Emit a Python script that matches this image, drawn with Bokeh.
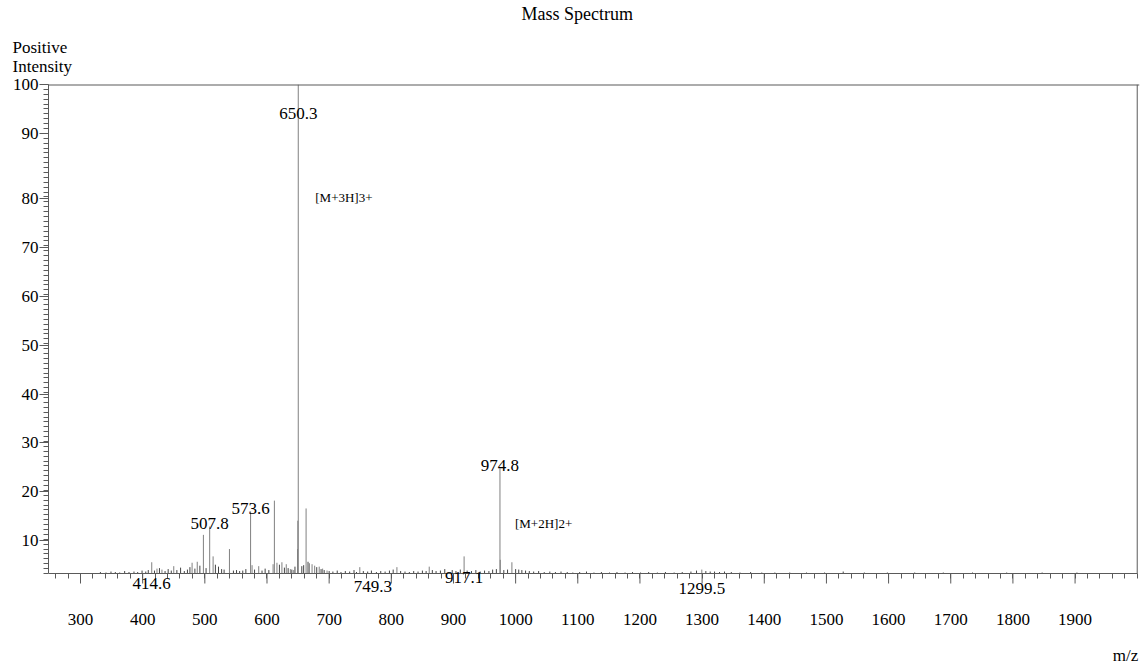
from bokeh.plotting import figure
from bokeh.models import FixedTicker, Label, Range1d, Span, Title
from bokeh.core.properties import value
from bokeh.embed import file_html
from bokeh.resources import INLINE

# Major ions (m/z, relative intensity %)
peak_mz = [650.3, 974.8, 573.6, 507.8, 414.6, 749.3, 917.1, 1299.5,
           497.7, 513.3, 539.6, 611.9, 662.9, 649.6, 649.1, 975.3, 994.0,
           809.0, 861.0, 450.0, 479.5, 487.8, 423.0, 431.0,
           576.0, 586.7, 609.8, 616.0, 624.0, 631.0, 637.6, 643.0,
           668.2, 672.5, 676.7, 684.0, 689.5, 696.6]
peak_int = [100, 21.5, 12.7, 9.6, 2.3, 1.3, 3.5, 0.8,
            7.9, 3.5, 5.0, 14.9, 13.3, 10.8, 5.0, 2.8, 2.3,
            1.3, 1.4, 1.5, 2.2, 2.4, 1.0, 0.8,
            1.7, 1.5, 1.9, 2.2, 2.3, 1.9, 0.9, 0.7,
            2.1, 1.9, 1.6, 1.4, 1.0, 0.6]

# Low-level signals along the baseline
minor_mz = [332, 341, 349, 356, 363, 371, 378, 386, 392, 399,
            405, 409, 419, 427, 436, 441, 446, 455, 461, 467,
            472, 476, 484, 492, 502, 517, 522, 527, 531, 546,
            551, 556, 561, 566, 580, 592, 597, 603, 620, 628,
            634, 640, 645, 656, 659, 666, 680, 687, 692, 700,
            706, 713, 719, 726, 733, 740, 744, 755, 762, 768,
            776, 783, 790, 797, 803, 815, 822, 829, 836, 843,
            850, 856, 866, 872, 879, 886, 898, 904, 911, 922,
            929, 936, 943, 950, 957, 963, 969, 981, 987, 1000,
            1005, 1010, 1016, 1022, 1029, 1037, 1046, 1055, 1064, 1073,
            1083, 1092, 1103, 1114, 1126, 1138, 1151, 1163, 1176, 1188,
            1201, 1214, 1228, 1241, 1255, 1268, 1282, 1291, 1306, 1313,
            1320, 1328, 1336, 1347, 1361, 1378, 1396, 1417, 1441, 1468,
            1497, 1527, 1561, 1598, 1642, 1688, 1735, 1790, 1847, 1903]
minor_int = [0.3, 0.2, 0.4, 0.3, 0.2, 0.5, 0.3, 0.4, 0.3, 0.6,
             0.4, 0.7, 0.6, 1.1, 0.5, 0.9, 0.6, 0.7, 1.2, 0.5,
             0.8, 1.3, 1.0, 1.6, 1.1, 1.8, 1.4, 0.9, 0.8, 0.6,
             0.7, 0.5, 0.6, 0.9, 0.8, 0.6, 1.0, 0.7, 1.8, 1.2,
             1.1, 0.8, 1.4, 1.5, 1.7, 2.4, 1.3, 0.9, 0.7, 0.5,
             0.4, 0.6, 0.3, 0.5, 0.4, 0.7, 0.3, 0.5, 0.4, 0.6,
             0.3, 0.5, 0.4, 0.6, 0.8, 0.5, 0.4, 0.3, 0.5, 0.4,
             0.6, 0.5, 0.7, 0.5, 0.6, 0.9, 0.7, 0.5, 0.8, 0.6,
             0.5, 0.7, 0.4, 0.6, 0.5, 0.8, 0.9, 0.7, 0.8, 0.9,
             0.8, 0.7, 0.6, 0.5, 0.4, 0.5, 0.3, 0.4, 0.3, 0.4,
             0.3, 0.2, 0.3, 0.4, 0.2, 0.3, 0.2, 0.3, 0.2, 0.3,
             0.2, 0.3, 0.2, 0.3, 0.2, 0.3, 0.4, 0.6, 0.5, 0.4,
             0.4, 0.3, 0.4, 0.3, 0.2, 0.3, 0.2, 0.2, 0.2, 0.2,
             0.2, 0.4, 0.2, 0.2, 0.2, 0.2, 0.2, 0.2, 0.2, 0.2]

# Peaks annotated with their m/z
labeled_mz = [650.3, 974.8, 573.6, 507.8, 414.6, 749.3, 917.1, 1299.5]

# Charge-state annotations
ion_notes = ["[M+3H]3+", "[M+2H]2+"]
ion_note_mz = [650.3, 974.8]

x_ticks = list(range(300, 2000, 100))
y_tick_values = [10, 20, 30, 40, 50, 60, 70, 80, 90, 100]

FONT = "Liberation Serif"
AXIS_GREY = "#5a5a5a"
PEAK_GREY = "#808080"

# ---- geometry (pixels) ----
PX_Y = 4.89          # pixels per % intensity
PX_X = 0.6216        # pixels per m/z unit
FRAME_LEFT, FRAME_TOP = 48, 84     # the box top is the 100 % line
FRAME_W, FRAME_H = 1091, 667 - 84
ZERO_PX = 573                      # where 0 % falls
X_START = 248.5
X_END = X_START + FRAME_W / PX_X
Y_END = 100
Y_START = Y_END - FRAME_H / PX_Y
X_FULL = 2000


def px_down(n):
    """Intensity units spanning n pixels."""
    return n / PX_Y


p = figure(frame_width=FRAME_W, frame_height=FRAME_H,
           x_range=Range1d(X_START, X_END), y_range=Range1d(Y_START, Y_END),
           x_axis_location="above",
           output_backend="svg", toolbar_location=None, title=None,
           min_border_left=FRAME_LEFT, min_border_right=2,
           min_border_top=FRAME_TOP, min_border_bottom=0)
p.grid.visible = False
p.outline_line_color = None
p.background_fill_color = "white"
p.border_fill_color = "white"

# plot box: top edge and right edge
p.add_layout(Span(location=100, dimension="width", line_color=AXIS_GREY, line_width=2))
p.segment(x0=[X_FULL], y0=[0], x1=[X_FULL], y1=[100], line_color=AXIS_GREY, line_width=1)

# stick spectrum
p.segment(x0=minor_mz, y0=0, x1=minor_mz, y1=minor_int,
          line_color="#444444", line_width=1)
p.segment(x0=peak_mz, y0=0, x1=peak_mz, y1=peak_int,
          line_color=PEAK_GREY, line_width=1)

# m/z axis line on the zero level with short ticks every 20 hanging below
xa = p.xaxis[0]
xa.fixed_location = 0
xa.bounds = (X_START, X_FULL)
xa.ticker = FixedTicker(ticks=[], minor_ticks=list(range(260, 2001, 20)))
xa.axis_line_color = AXIS_GREY
xa.minor_tick_line_color = AXIS_GREY
xa.major_tick_out = 0
xa.major_tick_in = 0
xa.minor_tick_out = 0
xa.minor_tick_in = 5
xa.major_label_standoff = 0

# longer ticks at every hundred and their numbers
p.segment(x0=x_ticks, y0=0, x1=x_ticks, y1=-px_down(10),
          line_color=AXIS_GREY, line_width=1)
p.text(x=x_ticks, y=[-px_down(619 - ZERO_PX)] * len(x_ticks),
       text=[str(t) for t in x_ticks], text_font=value(FONT),
       text_font_size="17px", text_color="black",
       text_align="center", text_baseline="middle")

# intensity axis: labelled ticks sit a little below their decade marks
label_pos = [round(v - 3.3, 1) if v <= 80 else float(v) for v in y_tick_values]
ya = p.yaxis[0]
ya.bounds = (0, 100)
ya.ticker = FixedTicker(ticks=label_pos, minor_ticks=list(range(0, 101, 1)))
ya.major_label_overrides = {pos: str(v) for pos, v in zip(label_pos, y_tick_values)}
ya.axis_line_color = AXIS_GREY
ya.major_tick_line_color = AXIS_GREY
ya.minor_tick_line_color = AXIS_GREY
ya.major_tick_out = 9
ya.major_tick_in = 0
ya.minor_tick_out = 5
ya.minor_tick_in = 0
ya.major_label_standoff = 1
ya.major_label_text_font = FONT
ya.major_label_text_font_size = "17px"
ya.major_label_text_color = "black"


def add_text(x, y, text, size="17px", align="center", dx=0, dy=0):
    """Place text at (x, y) shifted by dx/dy pixels (dy positive = up)."""
    p.add_layout(Label(x=x + dx / PX_X, y=y + dy / PX_Y, text=text,
                       text_font=FONT, text_font_size=size,
                       text_color="black", text_align=align,
                       text_baseline="middle"))


add_text(X_FULL, 0, "m/z", align="right", dx=1, dy=-(655 - ZERO_PX))

# peak labels: above the stick, or beneath the axis for minor ions
height_of = dict(zip(peak_mz, peak_int))
below_axis = {414.6: (0, -10), 749.3: (13, -13), 917.1: (0, -4), 1299.5: (0, -15)}
for mz in labeled_mz:
    txt = f"{mz:.1f}"
    if mz in below_axis:
        dx, dy = below_axis[mz]
        add_text(mz, 0, txt, dx=dx, dy=dy)
    elif height_of[mz] >= 100:
        add_text(mz, height_of[mz], txt, dy=-29)
    else:
        add_text(mz, height_of[mz], txt, dy=3)

# charge-state notes to the right of their peaks
note_shift = {"[M+3H]3+": (17, -113), "[M+2H]2+": (15, 50)}
for note, mz in zip(ion_notes, ion_note_mz):
    dx, dy = note_shift[note]
    base = height_of[mz] if height_of[mz] >= 100 else 0
    add_text(mz, base, note, size="13px", align="left", dx=dx, dy=dy)

# headings above the plot box (first added sits closest to the box)
p.add_layout(Title(text="Positive\nIntensity", align="left", offset=-36,
                   standoff=16, text_font=FONT, text_font_size="17px",
                   text_line_height=1.04, text_font_style="normal",
                   text_color="black"), "above")
p.add_layout(Title(text="Mass Spectrum", align="left", offset=473,
                   standoff=4, vertical_align="top", text_font=FONT,
                   text_font_size="18px", text_font_style="normal",
                   text_color="black"), "above")

open("out.html", "w").write(file_html(p, INLINE))
